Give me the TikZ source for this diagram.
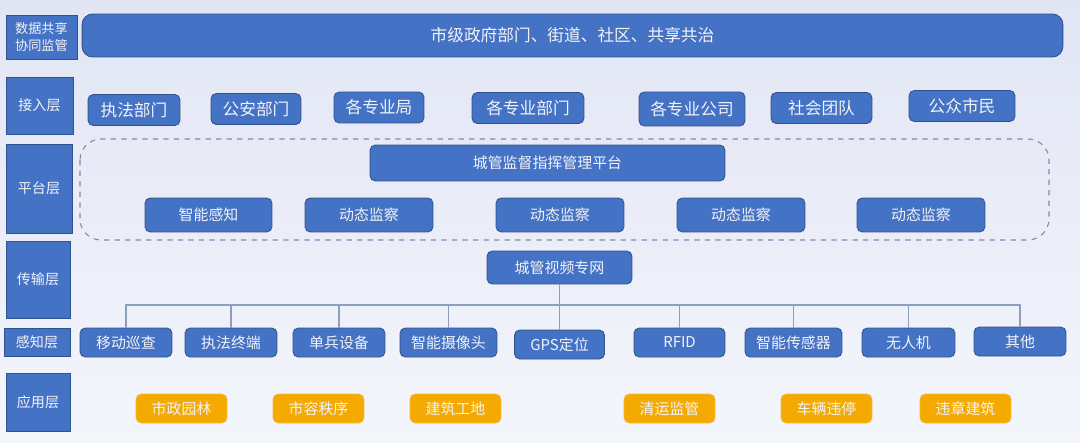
\documentclass[tikz,border=0pt]{standalone}
\usepackage{fontspec}
\newfontfamily\cjk{Noto Sans CJK SC}
\usepackage{xcolor}
\usepackage{tikz}
\usetikzlibrary{positioning}

\definecolor{bgtop}{HTML}{E2E5F4}
\definecolor{bgbot}{HTML}{F3F6FB}
\definecolor{boxblue}{HTML}{4472C4}
\definecolor{boxline}{HTML}{2F528F}
\definecolor{boxtext}{HTML}{F2F3F8}
\definecolor{appfill}{HTML}{F4AA00}
\definecolor{treeline}{HTML}{8E9EBE}
\definecolor{dashline}{HTML}{7F8AA6}

\begin{document}
\begin{tikzpicture}[
  x=0.02cm, y=-0.02cm,
  layer/.style={rectangle, draw=boxline, fill=boxblue, text=boxtext,
                align=center, inner sep=0pt, line width=0.5pt,
                font={\cjk\fontsize{8}{10}\selectfont}},
  box/.style={rectangle, draw=boxline, fill=boxblue, rounded corners=3pt,
              text=boxtext, inner sep=0pt, line width=0.5pt,
              font={\cjk\fontsize{8.5}{10}\selectfont}},
  entry/.style={box, minimum height=0.62cm,
                font={\cjk\fontsize{9.5}{11}\selectfont}},
  sensor/.style={box, minimum height=0.58cm},
  app/.style={rectangle, fill=appfill, draw=appfill!80!white, rounded corners=3pt,
              text=boxtext, inner sep=0pt, minimum width=1.82cm,
              minimum height=0.58cm, line width=0.4pt,
              font={\cjk\fontsize{8.5}{10}\selectfont}},
  tree/.style={draw=treeline, line width=0.6pt},
]
  % Background
  \shade[top color=bgtop, bottom color=bgbot] (0,0) rectangle (1080,443);
  \useasboundingbox (0,0) rectangle (1080,443);

  % Layer labels
  \node[layer, minimum width=1.42cm, minimum height=0.88cm,
        font={\cjk\fontsize{7.5}{9.5}\selectfont}] (share) at (41.5,37) {数据共享\\协同监管};
  \node[layer, minimum width=1.34cm, minimum height=1.14cm] (access) at (39.5,105.5) {接入层};
  \node[layer, minimum width=1.32cm, minimum height=1.78cm] (platform) at (39,188.5) {平台层};
  \node[layer, minimum width=1.28cm, minimum height=1.54cm] (trans) at (38,279.5) {传输层};
  \node[layer, minimum width=1.32cm, minimum height=0.56cm] (sense) at (37,342) {感知层};
  \node[layer, minimum width=1.28cm, minimum height=1.16cm] (apply) at (38,402) {应用层};

  % Shared supervision
  \node[box, rounded corners=6pt, minimum width=19.62cm, minimum height=0.86cm,
        font={\cjk\fontsize{9.5}{11}\selectfont}] (gov) at (572.5,35.5)
        {市级政府部门、街道、社区、共享共治};

  % Access layer
  \node[entry, minimum width=1.84cm] (a1) at (134,110) {执法部门};
  \node[entry, minimum width=1.80cm] (a2) at (256,109) {公安部门};
  \node[entry, minimum width=1.80cm] (a3) at (379,107.5) {各专业局};
  \node[entry, minimum width=2.24cm] (a4) at (528,108) {各专业部门};
  \node[entry, minimum width=2.12cm, minimum height=0.68cm] (a5) at (692,109) {各专业公司};
  \node[entry, minimum width=2.02cm] (a6) at (821.5,108) {社会团队};
  \node[entry, minimum width=2.12cm] (a7) at (962,106) {公众市民};

  % Platform layer
  \draw[dashline, dashed, line width=0.6pt, rounded corners=12pt]
    (80,139) rectangle (1049,240);
  \node[box, minimum width=7.10cm, minimum height=0.72cm] (cmd) at (547.5,163)
    {城管监督指挥管理平台};
  \node[box, minimum width=2.54cm, minimum height=0.68cm] (p1) at (208.5,215) {智能感知};
  \node[box, minimum width=2.56cm, minimum height=0.68cm] (p2) at (369,215) {动态监察};
  \node[box, minimum width=2.56cm, minimum height=0.68cm] (p3) at (560,215) {动态监察};
  \node[box, minimum width=2.56cm, minimum height=0.68cm] (p4) at (741,215) {动态监察};
  \node[box, minimum width=2.56cm, minimum height=0.68cm] (p5) at (921,215) {动态监察};

  % Transmission layer
  \node[box, minimum width=2.90cm, minimum height=0.66cm] (net) at (559.5,267.5) {城管视频专网};
  \coordinate (bus) at (559.5,305);

  % Sensing layer
  \node[sensor, minimum width=1.84cm] (s1) at (126,342.5) {移动巡查};
  \node[sensor, minimum width=1.84cm] (s2) at (231,342.5) {执法终端};
  \node[sensor, minimum width=1.84cm] (s3) at (339,342.5) {单兵设备};
  \node[sensor, minimum width=1.94cm] (s4) at (448.5,342.5) {智能摄像头};
  \node[sensor, minimum width=1.80cm] (s5) at (559.5,344.5) {GPS定位};
  \node[sensor, minimum width=1.82cm] (s6) at (679.5,342.5) {RFID};
  \node[sensor, minimum width=1.94cm] (s7) at (793.5,342.5) {智能传感器};
  \node[sensor, minimum width=1.86cm] (s8) at (908.5,342.5) {无人机};
  \node[sensor, minimum width=1.84cm] (s9) at (1020,341.5) {其他};

  % Tree lines
  \draw[tree] (net.south) -- (bus);
  \draw[tree] (s1.north) |- (bus);
  \draw[tree] (s2.north) |- (bus);
  \draw[tree] (s3.north) |- (bus);
  \draw[tree] (s4.north) |- (bus);
  \draw[tree] (s5.north) -- (bus);
  \draw[tree] (s6.north) |- (bus);
  \draw[tree] (s7.north) |- (bus);
  \draw[tree] (s8.north) |- (bus);
  \draw[tree] (s9.north) |- (bus);

  % Application layer
  \node[app] (u1) at (181.5,408.5) {市政园林};
  \node[app] (u2) at (318.5,408.5) {市容秩序};
  \node[app] (u3) at (455.5,408.5) {建筑工地};
  \node[app] (u4) at (669.5,408.5) {清运监管};
  \node[app] (u5) at (826.5,408.5) {车辆违停};
  \node[app] (u6) at (965.5,408.5) {违章建筑};
\end{tikzpicture}
\end{document}
